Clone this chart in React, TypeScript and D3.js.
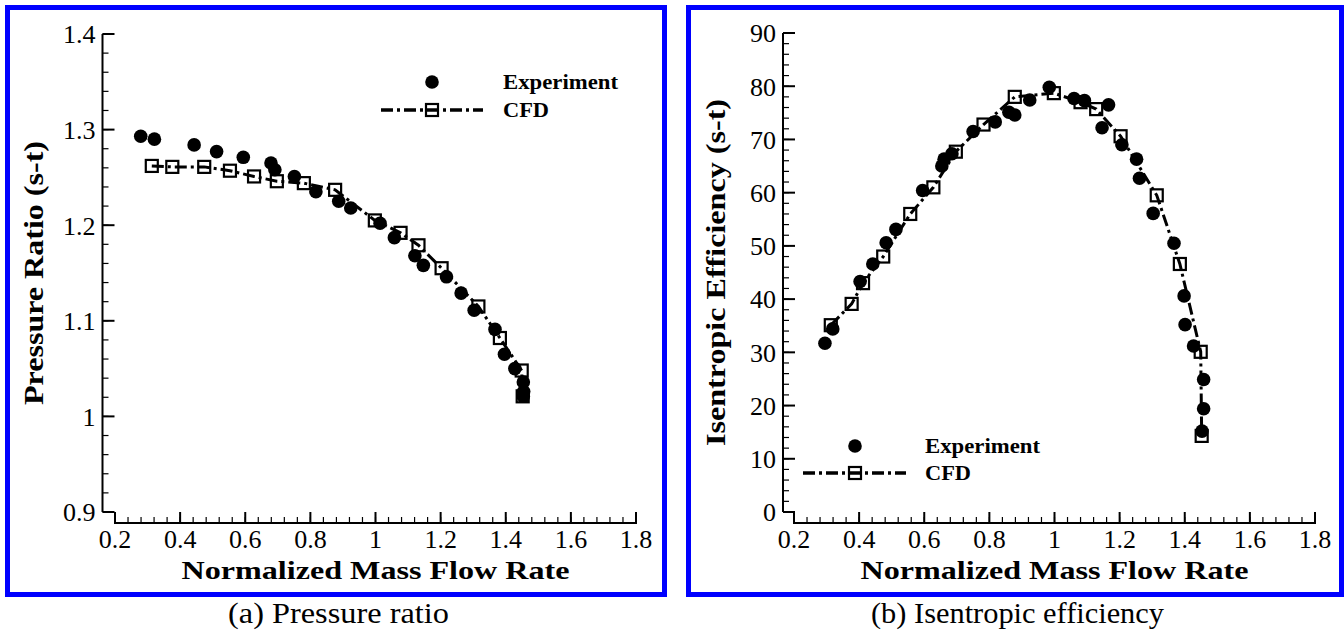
import React from "react";
import * as d3 from "d3";

// ---------- Data ----------
const prExpX = [0.279, 0.321, 0.443, 0.512, 0.594, 0.679, 0.691, 0.751, 0.817, 0.887, 0.924, 1.014, 1.058, 1.121, 1.147, 1.218, 1.263, 1.303, 1.367, 1.396, 1.428, 1.454, 1.455, 1.454];
const prExpY = [1.293, 1.290, 1.284, 1.277, 1.271, 1.265, 1.258, 1.251, 1.235, 1.225, 1.218, 1.202, 1.187, 1.168, 1.158, 1.146, 1.129, 1.111, 1.091, 1.065, 1.050, 1.036, 1.026, 1.021];
const prCfdX = [0.313, 0.376, 0.474, 0.553, 0.627, 0.697, 0.780, 0.876, 0.998, 1.077, 1.132, 1.203, 1.316, 1.382, 1.449, 1.452];
const prCfdY = [1.262, 1.261, 1.261, 1.257, 1.251, 1.246, 1.244, 1.237, 1.205, 1.192, 1.179, 1.155, 1.115, 1.082, 1.048, 1.021];

const effExpX = [0.295, 0.319, 0.403, 0.442, 0.483, 0.513, 0.595, 0.654, 0.661, 0.685, 0.750, 0.818, 0.860, 0.878, 0.924, 0.984, 1.060, 1.092, 1.166, 1.146, 1.207, 1.252, 1.261, 1.303, 1.367, 1.398, 1.401, 1.427, 1.458, 1.458, 1.453];
const effExpY = [31.7, 34.4, 43.3, 46.6, 50.6, 53.1, 60.4, 65.0, 66.3, 67.3, 71.5, 73.3, 75.1, 74.6, 77.4, 79.8, 77.7, 77.3, 76.5, 72.2, 69.0, 66.3, 62.7, 56.1, 50.5, 40.6, 35.2, 31.2, 24.9, 19.4, 15.2];
const effCfdX = [0.313, 0.377, 0.412, 0.474, 0.557, 0.628, 0.697, 0.782, 0.878, 0.998, 1.080, 1.128, 1.203, 1.314, 1.385, 1.449, 1.452];
const effCfdY = [35.1, 39.1, 43.0, 48.0, 56.0, 61.0, 67.7, 72.8, 78.0, 78.7, 77.0, 75.7, 70.6, 59.5, 46.6, 30.1, 14.3];

const xTicks = [0.2, 0.4, 0.6, 0.8, 1.0, 1.2, 1.4, 1.6, 1.8];
const prYTicks = [0.9, 1.0, 1.1, 1.2, 1.3, 1.4];
const effYTicks = [0, 10, 20, 30, 40, 50, 60, 70, 80, 90];

const legendLabels = ["Experiment", "CFD"];
const xTitle = "Normalized Mass Flow Rate";

const SERIF = "'Liberation Serif', 'Times New Roman', serif";
const DASH = "12,4,3,4";

type PanelProps = {
  frame: [number, number, number, number];
  xRange: [number, number];
  yRange: [number, number];
  yDomain: [number, number];
  yTicks: number[];
  yMinorStep: number;
  yFmt: (v: number) => string;
  yAxisX: number;
  xAxisY: number;
  yTitle: string;
  yTitleLen: number;
  yTitleX: number;
  expX: number[];
  expY: number[];
  cfdX: number[];
  cfdY: number[];
  legend: { cx: number; y1: number; y2: number; lx1: number; lx2: number; tx: number };
  caption: string;
  captionLen: number;
  captionX: number;
};

function Panel(p: PanelProps) {
  const x = d3.scaleLinear().domain([0.2, 1.8]).range(p.xRange);
  const y = d3.scaleLinear().domain(p.yDomain).range(p.yRange);
  const xMinor = d3.range(0, 41).map((i) => 0.2 + i * 0.04);
  const nY = Math.round((p.yDomain[1] - p.yDomain[0]) / p.yMinorStep);
  const yMinor = d3.range(0, nY + 1).map((i) => p.yDomain[0] + i * p.yMinorStep);
  const line = d3
    .line<number>()
    .x((_, i) => x(p.cfdX[i]))
    .y((v) => y(v));
  const fmtX = (v: number) => (Math.abs(v - 1) < 1e-9 ? "1" : d3.format(".1f")(v));
  const [fx, fy, fw, fh] = p.frame;
  const sq = 12;
  const xMid = (p.xRange[0] + p.xRange[1]) / 2;
  const yMid = (p.yRange[0] + p.yRange[1]) / 2;
  return (
    <g>
      <rect x={fx} y={fy} width={fw} height={fh} fill="white" stroke="#0000ff" strokeWidth={5} />
      {/* y axis */}
      <line x1={p.yAxisX} x2={p.yAxisX} y1={y(p.yDomain[1])} y2={y(p.yDomain[0])} stroke="black" strokeWidth={2} />
      {yMinor.map((v, i) => (
        <line key={"ym" + i} x1={p.yAxisX} x2={p.yAxisX + 6} y1={y(v)} y2={y(v)} stroke="black" strokeWidth={1.2} />
      ))}
      {p.yTicks.map((v, i) => (
        <g key={"yt" + i}>
          <line x1={p.yAxisX} x2={p.yAxisX + 12} y1={y(v)} y2={y(v)} stroke="black" strokeWidth={2} />
          <text x={p.yAxisX - 7} y={y(v)} dy="0.36em" textAnchor="end" fontFamily={SERIF} fontSize={26}>
            {p.yFmt(v)}
          </text>
        </g>
      ))}
      {/* x axis */}
      <line x1={p.xRange[0]} x2={p.xRange[1]} y1={p.xAxisY} y2={p.xAxisY} stroke="black" strokeWidth={2} />
      {xMinor.map((v, i) => (
        <line key={"xm" + i} x1={x(v)} x2={x(v)} y1={p.xAxisY} y2={p.xAxisY - 6} stroke="black" strokeWidth={1.2} />
      ))}
      {xTicks.map((v, i) => (
        <g key={"xt" + i}>
          <line x1={x(v)} x2={x(v)} y1={p.xAxisY + 1} y2={p.xAxisY - 11} stroke="black" strokeWidth={2} />
          <text x={x(v)} y={p.xAxisY + 25} textAnchor="middle" fontFamily={SERIF} fontSize={26}>
            {fmtX(v)}
          </text>
        </g>
      ))}
      <text x={xMid} y={579} textAnchor="middle" fontFamily={SERIF} fontWeight="bold" fontSize={26} textLength={388} lengthAdjust="spacingAndGlyphs">
        {xTitle}
      </text>
      <text
        transform={`translate(${p.yTitleX},${yMid}) rotate(-90)`}
        dy="0.35em"
        textAnchor="middle"
        fontFamily={SERIF}
        fontWeight="bold"
        fontSize={27}
        textLength={p.yTitleLen}
        lengthAdjust="spacingAndGlyphs"
      >
        {p.yTitle}
      </text>
      {/* CFD line */}
      <path d={line(p.cfdY) || ""} fill="none" stroke="black" strokeWidth={3} strokeDasharray={DASH} />
      {p.cfdY.map((v, i) => (
        <rect key={"c" + i} x={x(p.cfdX[i]) - sq / 2} y={y(v) - sq / 2} width={sq} height={sq} fill="none" stroke="black" strokeWidth={2.2} />
      ))}
      {p.expY.map((v, i) => (
        <circle key={"e" + i} cx={x(p.expX[i])} cy={y(v)} r={6.8} fill="black" />
      ))}
      {/* legend */}
      <circle cx={p.legend.cx} cy={p.legend.y1} r={6.8} fill="black" />
      <line x1={p.legend.lx1} x2={p.legend.lx2} y1={p.legend.y2} y2={p.legend.y2} stroke="black" strokeWidth={3.5} strokeDasharray={DASH} />
      <rect x={p.legend.cx - sq / 2} y={p.legend.y2 - sq / 2} width={sq} height={sq} fill="none" stroke="black" strokeWidth={2.2} />
      <text x={p.legend.tx} y={p.legend.y1} dy="0.35em" fontFamily={SERIF} fontWeight="bold" fontSize={21} textLength={115} lengthAdjust="spacingAndGlyphs">
        {legendLabels[0]}
      </text>
      <text x={p.legend.tx} y={p.legend.y2} dy="0.35em" fontFamily={SERIF} fontWeight="bold" fontSize={21} textLength={46} lengthAdjust="spacingAndGlyphs">
        {legendLabels[1]}
      </text>
      {/* caption */}
      <text x={p.captionX} y={623} textAnchor="middle" fontFamily={SERIF} fontSize={29} textLength={p.captionLen} lengthAdjust="spacingAndGlyphs">
        {p.caption}
      </text>
    </g>
  );
}

export default function App() {
  return (
    <svg width={1344} height={632} style={{ position: "absolute", left: 0, top: 0, background: "white" }}>
      <rect x={0} y={0} width={1344} height={632} fill="white" />
      <Panel
        frame={[7.5, 7.5, 657, 587]}
        xRange={[115, 636]}
        yRange={[512, 34]}
        yDomain={[0.9, 1.4]}
        yTicks={prYTicks}
        yMinorStep={0.02}
        yFmt={(v) => (Math.abs(v - 1) < 1e-9 ? "1" : d3.format(".1f")(v))}
        yAxisX={102.5}
        xAxisY={523}
        yTitle="Pressure Ratio (s-t)"
        yTitleLen={264}
        yTitleX={34}
        expX={prExpX}
        expY={prExpY}
        cfdX={prCfdX}
        cfdY={prCfdY}
        legend={{ cx: 432, y1: 82, y2: 110, lx1: 381, lx2: 483, tx: 503 }}
        caption="(a) Pressure ratio"
        captionLen={221}
        captionX={338.5}
      />
      <Panel
        frame={[688.5, 7.5, 653, 587]}
        xRange={[794, 1315]}
        yRange={[512, 33]}
        yDomain={[0, 90]}
        yTicks={effYTicks}
        yMinorStep={2}
        yFmt={(v) => String(v)}
        yAxisX={783}
        xAxisY={523}
        yTitle="Isentropic Efficiency (s-t)"
        yTitleLen={347}
        yTitleX={716}
        expX={effExpX}
        expY={effExpY}
        cfdX={effCfdX}
        cfdY={effCfdY}
        legend={{ cx: 855, y1: 446, y2: 473, lx1: 803, lx2: 906, tx: 925 }}
        caption="(b) Isentropic efficiency"
        captionLen={293}
        captionX={1017.5}
      />
    </svg>
  );
}
